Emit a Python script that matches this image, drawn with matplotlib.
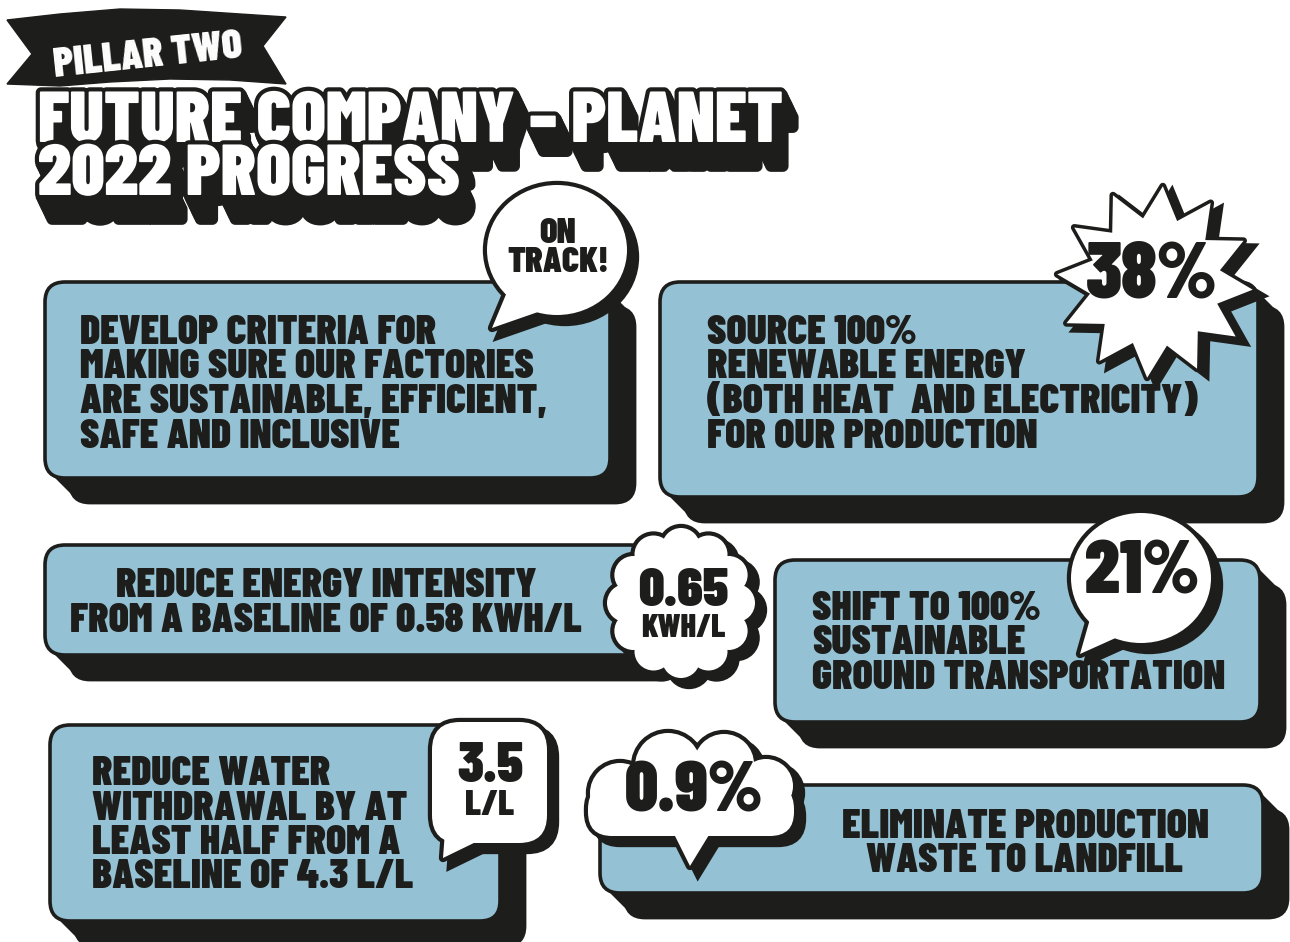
import numpy as np
import matplotlib
matplotlib.use('Agg')
import matplotlib.pyplot as plt
import matplotlib.patheffects as pe
from matplotlib.patches import FancyBboxPatch, Ellipse, Circle, Polygon

# ---- content ----
banner_text = "PILLAR TWO"
title_lines = ["FUTURE COMPANY \u2013 PLANET", "2022 PROGRESS"]

goal_lines = [
    ["DEVELOP CRITERIA FOR", "MAKING SURE OUR FACTORIES", "ARE SUSTAINABLE, EFFICIENT,", "SAFE AND INCLUSIVE"],
    ["SOURCE 100%", "RENEWABLE ENERGY", "(BOTH HEAT  AND ELECTRICITY)", "FOR OUR PRODUCTION"],
    ["REDUCE ENERGY INTENSITY", "FROM A BASELINE OF 0.58 KWH/L"],
    ["SHIFT TO 100%", "SUSTAINABLE", "GROUND TRANSPORTATION"],
    ["REDUCE WATER", "WITHDRAWAL BY AT", "LEAST HALF FROM A", "BASELINE OF 4.3 L/L"],
    ["ELIMINATE PRODUCTION", "WASTE TO LANDFILL"],
]
progress_values = ["ON\nTRACK!", "38%", "0.65", "21%", "3.5", "0.9%"]
progress_units = ["", "", "KWH/L", "", "L/L", ""]

# ---- layout (pixels, origin top-left) ----
box_rects = [(45, 282, 610, 478), (660, 282, 1258, 497), (45, 545, 650, 655),
             (775, 560, 1260, 722), (50, 725, 500, 921), (600, 785, 1263, 893)]
text_anchor = [(80, 344, 'left'), (707, 344, 'left'), (326, 597, 'center'),
               (812, 620, 'left'), (92, 785, 'left'), (1025, 838, 'center')]

BLUE = '#94c2d4'
INK = '#1d1d1b'
FONT = ['Barlow Condensed', 'DejaVu Sans']
W = 'black'

fig = plt.figure(figsize=(12.9, 9.42), dpi=100)
ax = fig.add_axes([0, 0, 1, 1])
ax.set_xlim(0, 1290)
ax.set_ylim(942, 0)
ax.axis('off')


def rbox_face(x0, y0, x1, y1, r):
    return FancyBboxPatch((x0, y0), x1 - x0, y1 - y0,
                          boxstyle=f"round,pad=0,rounding_size={r}")


def goal_box(x0, y0, x1, y1, z, dx=25, dy=25, r=20):
    sh = rbox_face(x0 + dx, y0 + dy, x1 + dx, y1 + dy, r)
    sh.set(fc=INK, ec=INK, lw=2, zorder=z)
    ax.add_patch(sh)
    k = 0.3 * r
    bevel = Polygon([(x0 + k, y1 - k), (x0 + dx + k, y1 + dy - k), (x1 + dx - k, y1 + dy - k),
                     (x1 + dx - k, y0 + dy + k), (x1 - k, y0 + k)], closed=True,
                    fc=INK, ec=INK, lw=2, zorder=z)
    ax.add_patch(bevel)
    face = rbox_face(x0, y0, x1, y1, r)
    face.set(fc=BLUE, ec=INK, lw=2.6, zorder=z + 0.1)
    ax.add_patch(face)


def blob(parts, z, off=(8, 7), lw=6):
    # union of shapes: shadow, thick outline, white fill on top
    for p in parts:
        s = p(*off)
        s.set(fc=INK, ec=INK, lw=lw, zorder=z)
        ax.add_patch(s)
    for p in parts:
        s = p(0, 0)
        s.set(fc=INK, ec=INK, lw=lw, zorder=z + 0.1, joinstyle='round')
        ax.add_patch(s)
    for p in parts:
        s = p(0, 0)
        s.set(fc='white', ec='none', zorder=z + 0.2)
        ax.add_patch(s)


def ell(cx, cy, w, h):
    return lambda dx, dy: Ellipse((cx + dx, cy + dy), w, h)


def circ(cx, cy, r):
    return lambda dx, dy: Circle((cx + dx, cy + dy), r)


def poly(pts):
    return lambda dx, dy: Polygon(np.array(pts, float) + [dx, dy], closed=True)


def rb(x0, y0, x1, y1, r):
    return lambda dx, dy: rbox_face(x0 + dx, y0 + dy, x1 + dx, y1 + dy, r)


# ---- banner + title ----
flag = [(7, 20), (60, 14), (120, 9), (180, 10), (240, 14), (286, 17), (263, 46), (286, 84),
        (230, 80), (170, 79), (110, 82), (60, 86), (7, 84), (32, 54)]
ax.add_patch(Polygon(flag, closed=True, fc=INK, ec=INK, lw=1, zorder=1))
ax.text(148, 56, banner_text, rotation=6, ha='center', va='center', color='white',
        fontsize=30, family=FONT, weight=W, zorder=2)

# 3d extrusion done with path effects (offsets in points, y up)
extrude = [pe.PathPatchEffect(offset=(i * 1.2 * 0.72, -i * 2.5 * 0.72), facecolor=INK,
                              edgecolor=INK, linewidth=7)
           for i in range(10, 0, -1)]
title_fx = extrude + [pe.Stroke(linewidth=6, foreground=INK), pe.Normal()]
# multi-line baseline = last line's baseline
ax.text(38, 195, "\n".join(title_lines), ha='left', va='baseline', color='white',
        fontsize=52, family=FONT, weight=W, zorder=4, linespacing=0.80,
        path_effects=title_fx)

# ---- goal boxes ----
pitch = 34.5
for i, (rect, lines, anc) in enumerate(zip(box_rects, goal_lines, text_anchor)):
    z = 10 + i * 2
    goal_box(*rect, z=z)
    x, y, ha = anc
    for j, ln in enumerate(lines):
        ax.text(x, y + j * pitch, ln, ha=ha, va='baseline', color=INK, fontsize=30,
                family=FONT, weight=W, zorder=z + 0.5)

# ---- progress badges ----
# on track bubble
blob([ell(557, 250, 140, 130), poly([(507, 292), (492, 328), (538, 312)])], z=30)

# starburst
n_pts = 12
ang = np.linspace(0, 2 * np.pi, 2 * n_pts, endpoint=False) - np.pi / 2 + 0.08
rad = np.where(np.arange(2 * n_pts) % 2 == 0, 98, 66)
star = np.column_stack([1155 + rad * np.cos(ang), 282 + rad * np.sin(ang) * 0.98])
blob([poly(star)], z=32, off=(9, 6), lw=5)

# cloud around 0.65
ring = [circ(681 + 55 * np.cos(a), 603 + 56 * np.sin(a), 19)
        for a in np.linspace(0, 2 * np.pi, 12, endpoint=False)]
blob([circ(681, 603, 58)] + ring, z=34)

# 21% bubble
blob([ell(1141, 578, 140, 130), poly([(1092, 612), (1080, 654), (1120, 636)])], z=36)

# 3.5 bubble
blob([rb(432, 722, 547, 843, 28), poly([(446, 818), (443, 858), (480, 840)])], z=38)

# 0.9% cloud
blob([rb(588, 785, 794, 836, 24), circ(620, 793, 30), circ(668, 766, 33),
      circ(724, 764, 30), circ(766, 786, 27), poly([(672, 830), (690, 866), (712, 830)])], z=40)

badge_pos = [(558, 248, 26), (1152, 297, 57), (683, 606, 40), (1142, 594, 54),
             (490, 782, 41), (694, 812, 52)]
unit_pos = [None, None, (683, 637, 23), None, (490, 815, 26), None]
for k, (val, unit) in enumerate(zip(progress_values, progress_units)):
    x, y, fs = badge_pos[k]
    if k == 0:
        ax.text(x, y, val, ha='center', va='center', fontsize=fs, family=FONT, weight=W,
                color=INK, zorder=50, linespacing=0.95)
        continue
    ax.text(x, y, val, ha='center', va='baseline', fontsize=fs, family=FONT, weight=W,
            color=INK, zorder=50)
    if unit:
        ux, uy, ufs = unit_pos[k]
        ax.text(ux, uy, unit, ha='center', va='baseline', fontsize=ufs, family=FONT,
                weight=W, color=INK, zorder=50)

fig.savefig('out.png', dpi=100, facecolor='white')
